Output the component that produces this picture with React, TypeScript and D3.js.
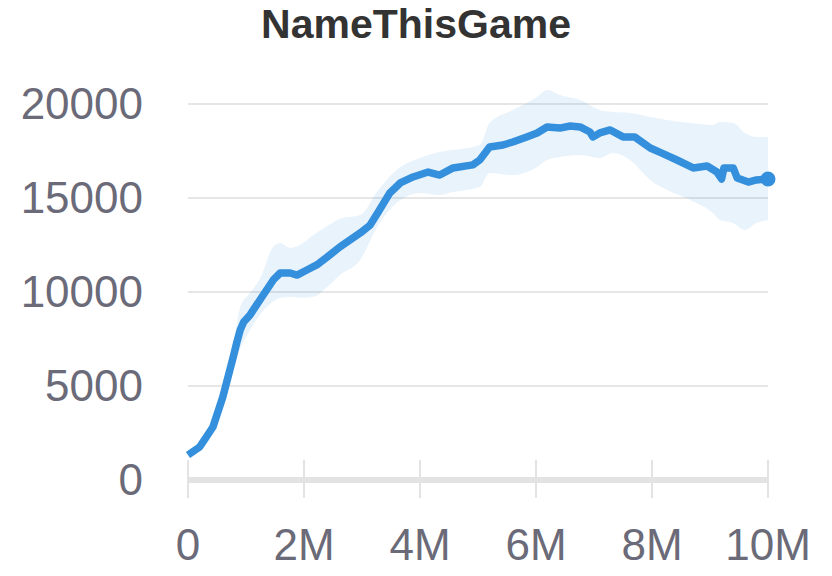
import React from "react";
import * as d3 from "d3";

// mean curve (steps in millions)
const meanSteps = [0, 0.2, 0.43, 0.6, 0.78, 0.84, 0.9, 0.96, 1.07, 1.24, 1.47, 1.59, 1.76, 1.88, 2.05, 2.22, 2.4, 2.62, 2.97, 3.14, 3.28, 3.48, 3.66, 3.88, 4.14, 4.34, 4.57, 4.91, 5.03, 5.2, 5.43, 5.6, 5.84, 6.02, 6.19, 6.41, 6.59, 6.76, 6.93, 6.98, 7.1, 7.28, 7.5, 7.7, 7.97, 8.17, 8.43, 8.71, 8.95, 9.12, 9.2, 9.24, 9.4, 9.47, 9.66, 9.8, 10];
const meanValues = [1330, 1755, 2820, 4415, 6540, 7300, 7980, 8400, 8780, 9575, 10640, 11010, 11010, 10900, 11170, 11440, 11860, 12400, 13140, 13560, 14250, 15270, 15800, 16120, 16380, 16220, 16600, 16760, 17020, 17710, 17820, 17980, 18250, 18460, 18780, 18720, 18830, 18780, 18510, 18250, 18460, 18620, 18250, 18250, 17660, 17390, 17020, 16600, 16700, 16380, 16010, 16600, 16600, 16060, 15850, 15960, 16010];

// min / max band
const bandSteps = [0, 0.2, 0.43, 0.6, 0.78, 0.9, 1.07, 1.24, 1.47, 1.59, 1.76, 1.93, 2.15, 2.4, 2.62, 2.97, 3.28, 3.66, 4.0, 4.34, 4.57, 5.03, 5.2, 5.6, 6.02, 6.19, 6.41, 6.76, 7.1, 7.33, 7.62, 7.97, 8.26, 8.66, 9.05, 9.17, 9.4, 9.6, 9.8, 10];
const bandUpper = [1500, 2000, 3100, 4800, 7100, 9200, 9950, 10700, 12400, 12600, 12340, 12500, 13000, 13500, 13900, 14100, 15430, 16650, 17130, 17450, 17550, 17820, 18990, 19680, 20370, 20740, 20480, 20210, 19680, 19570, 19520, 19310, 19150, 18990, 18880, 19040, 18990, 18460, 18250, 18250];
const bandLower = [1200, 1500, 2500, 4000, 6000, 7000, 7980, 8800, 9500, 9700, 9730, 9700, 9730, 10270, 10900, 11700, 13560, 14900, 15270, 15160, 15320, 15590, 16330, 16220, 16650, 17020, 17180, 17290, 17130, 17390, 17020, 15960, 15430, 14900, 14200, 13830, 13670, 13300, 13670, 13830];

const yTicks = [0, 5000, 10000, 15000, 20000];
const xTicks = [0, 2, 4, 6, 8, 10];

const W = 832;
const H = 576;
const FONT = "'Liberation Sans', Arial, sans-serif";
const LABEL = "#6b6a78";
const BLUE = "#348fdc";

export default function App() {
  const x = d3.scaleLinear().domain([0, 10]).range([188, 768]);
  const y = d3.scaleLinear().domain([0, 20000]).range([480, 104]);

  const band = d3
    .area<number>()
    .x((_, i) => x(bandSteps[i]))
    .y0((_, i) => y(bandLower[i]))
    .y1((d) => y(d))
    .curve(d3.curveMonotoneX);

  const line = d3
    .line<number>()
    .x((_, i) => x(meanSteps[i]))
    .y((d) => y(d));

  const last = meanValues.length - 1;

  return (
    <svg width={W} height={H} style={{ position: "absolute", left: 0, top: 0 }}>
      <rect width={W} height={H} fill="#fff" />
      <text x={416} y={38} textAnchor="middle" fontFamily={FONT} fontSize={41} fontWeight="bold" fill="#333">
        NameThisGame
      </text>

      {yTicks.map((t) => (
        <g key={t}>
          {t > 0 && <line x1={188} x2={768} y1={y(t)} y2={y(t)} stroke="#e6e6e6" strokeWidth={2} />}
          <text x={143} y={y(t) + 15} textAnchor="end" fontFamily={FONT} fontSize={44} fill={LABEL}>
            {t}
          </text>
        </g>
      ))}

      <line x1={188} x2={768} y1={480} y2={480} stroke="#e3e3e3" strokeWidth={6} />
      {xTicks.map((t) => (
        <g key={t}>
          <line x1={x(t)} x2={x(t)} y1={460} y2={498} stroke="#e3e3e3" strokeWidth={2} />
          <text x={x(t)} y={560} textAnchor="middle" fontFamily={FONT} fontSize={44} fill={LABEL}>
            {t === 0 ? "0" : `${t}M`}
          </text>
        </g>
      ))}

      <path d={band(bandUpper) || ""} fill={BLUE} fillOpacity={0.11} />
      <path d={line(meanValues) || ""} fill="none" stroke={BLUE} strokeWidth={7.5} strokeLinejoin="round" />
      <circle cx={x(meanSteps[last])} cy={y(meanValues[last])} r={7.5} fill={BLUE} />
    </svg>
  );
}
